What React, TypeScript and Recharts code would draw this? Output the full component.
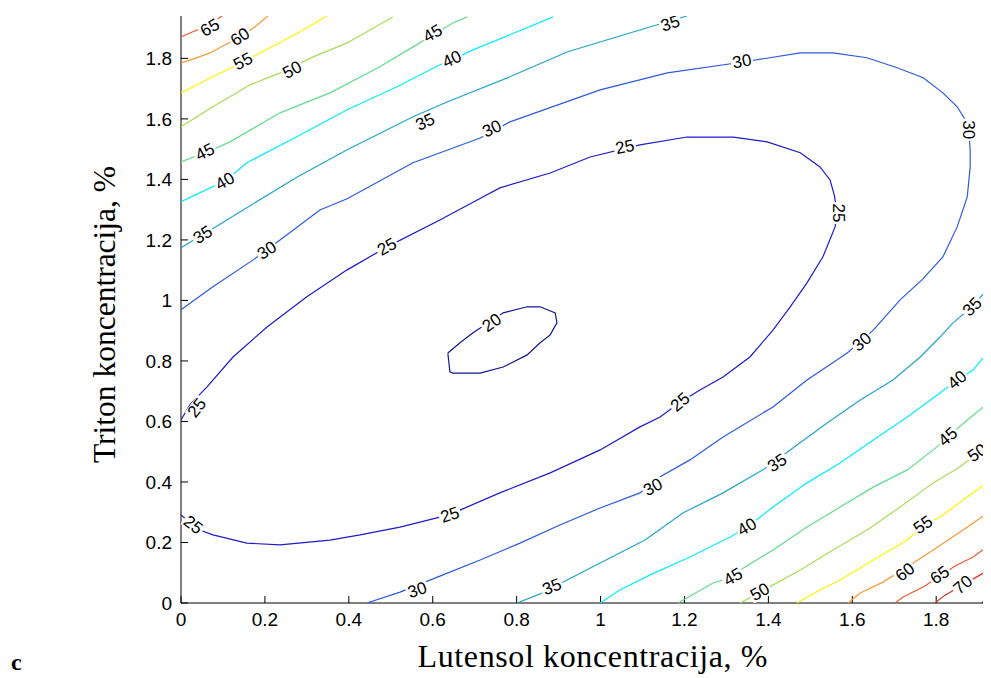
import React from 'react';
import { ScatterChart, Scatter, XAxis, YAxis } from 'recharts';

type Pt = { x: number; y: number };
const pts = (a: number[][]): Pt[] => a.map(([x, y]) => ({ x, y }));

// axis ticks
const xTicks = [0, 0.2, 0.4, 0.6, 0.8, 1, 1.2, 1.4, 1.6, 1.8];
const yTicks = [0, 0.2, 0.4, 0.6, 0.8, 1, 1.2, 1.4, 1.6, 1.8];
const xDomain = [0, 1.933];
const yDomain = [0, 1.94];

// contour lines (Lutensol %, Triton %)
const level20 = pts([
  [0.636, 0.826], [0.641, 0.764], [0.648, 0.76], [0.713, 0.76], [0.768, 0.78], [0.825, 0.82],
  [0.856, 0.86], [0.88, 0.886], [0.896, 0.926], [0.892, 0.959], [0.856, 0.979], [0.825, 0.979],
  [0.768, 0.959], [0.696, 0.893], [0.665, 0.86], [0.636, 0.826],
]);

const level25 = pts([
  [0, 0.605], [0.021, 0.655], [0.062, 0.714], [0.124, 0.813], [0.205, 0.912], [0.3, 1.012],
  [0.396, 1.101], [0.491, 1.177], [0.617, 1.266], [0.706, 1.332], [0.76, 1.372], [0.88, 1.421],
  [0.975, 1.474], [1.094, 1.514], [1.206, 1.54], [1.316, 1.54], [1.397, 1.524], [1.476, 1.488],
  [1.523, 1.441], [1.547, 1.398], [1.557, 1.349], [1.564, 1.289], [1.559, 1.243], [1.53, 1.144],
  [1.492, 1.058], [1.452, 0.979], [1.411, 0.902], [1.356, 0.813], [1.292, 0.747], [1.237, 0.704],
  [1.19, 0.664], [1.142, 0.615], [1.094, 0.582], [0.999, 0.506], [0.88, 0.43], [0.76, 0.364],
  [0.665, 0.307], [0.617, 0.284], [0.522, 0.251], [0.427, 0.225], [0.355, 0.208], [0.236, 0.192],
  [0.157, 0.198], [0.076, 0.225], [0.045, 0.241], [0, 0.291],
]);

const level30 = pts([
  [0, 0.969], [0.076, 1.045], [0.172, 1.134], [0.236, 1.2], [0.331, 1.299], [0.396, 1.336],
  [0.553, 1.455], [0.713, 1.537], [0.784, 1.59], [0.999, 1.696], [1.159, 1.752], [1.34, 1.788],
  [1.476, 1.818], [1.554, 1.818], [1.635, 1.802], [1.707, 1.769], [1.769, 1.736], [1.816, 1.686],
  [1.85, 1.64], [1.869, 1.597], [1.878, 1.547], [1.881, 1.498], [1.881, 1.441], [1.874, 1.342],
  [1.85, 1.243], [1.816, 1.144], [1.766, 1.068], [1.714, 1.002], [1.65, 0.902], [1.588, 0.826],
  [1.492, 0.737], [1.411, 0.648], [1.292, 0.549], [1.213, 0.473], [1.142, 0.417], [1.094, 0.364],
  [0.999, 0.314], [0.903, 0.258], [0.808, 0.198], [0.713, 0.142], [0.617, 0.089], [0.522, 0.036],
  [0.443, 0],
]);

const level35a = pts([
  [0, 1.174], [0.052, 1.217], [0.148, 1.299], [0.277, 1.408], [0.396, 1.498], [0.553, 1.607],
  [0.634, 1.656], [0.784, 1.739], [0.92, 1.821], [1.046, 1.874], [1.135, 1.911], [1.206, 1.94],
]);
const level35b = pts([
  [1.933, 1.055], [1.886, 0.979], [1.84, 0.926], [1.809, 0.879], [1.762, 0.813], [1.697, 0.737],
  [1.619, 0.671], [1.54, 0.595], [1.452, 0.506], [1.387, 0.44], [1.292, 0.364], [1.197, 0.298],
  [1.106, 0.208], [0.999, 0.132], [0.92, 0.076], [0.856, 0.03], [0.801, 0],
]);

const level40a = pts([
  [0, 1.326], [0.105, 1.395], [0.157, 1.455], [0.276, 1.541], [0.396, 1.63], [0.515, 1.706],
  [0.617, 1.779], [0.646, 1.795], [0.696, 1.828], [0.784, 1.878], [0.887, 1.937],
]);
const level40b = pts([
  [1.933, 0.846], [1.888, 0.77], [1.85, 0.737], [1.809, 0.694], [1.731, 0.615], [1.65, 0.539],
  [1.571, 0.463], [1.492, 0.397], [1.411, 0.317], [1.349, 0.251], [1.309, 0.218], [1.213, 0.152],
  [1.118, 0.093], [1.046, 0.043], [0.999, 0],
]);

const level45a = pts([
  [0, 1.458], [0.057, 1.488], [0.117, 1.524], [0.236, 1.62], [0.355, 1.686], [0.474, 1.772],
  [0.553, 1.838], [0.601, 1.878], [0.648, 1.917], [0.682, 1.937],
]);
const level45b = pts([
  [1.933, 0.671], [1.874, 0.605], [1.828, 0.549], [1.793, 0.506], [1.731, 0.44], [1.65, 0.383],
  [1.571, 0.317], [1.492, 0.251], [1.411, 0.175], [1.333, 0.109], [1.316, 0.086], [1.268, 0.066],
  [1.197, 0.01], [1.185, 0],
]);

const level50a = pts([
  [0, 1.574], [0.076, 1.64], [0.164, 1.712], [0.236, 1.752], [0.315, 1.805], [0.396, 1.851],
  [0.505, 1.937],
]);
const level50b = pts([
  [1.933, 0.529], [1.898, 0.496], [1.857, 0.45], [1.793, 0.397], [1.714, 0.317], [1.635, 0.241],
  [1.554, 0.175], [1.476, 0.109], [1.38, 0.036], [1.333, 0],
]);

const level55a = pts([
  [0, 1.686], [0.076, 1.739], [0.148, 1.788], [0.188, 1.818], [0.284, 1.888], [0.348, 1.94],
]);
const level55b = pts([
  [1.933, 0.41], [1.874, 0.35], [1.809, 0.284], [1.769, 0.255], [1.731, 0.208], [1.65, 0.142],
  [1.571, 0.076], [1.523, 0.043], [1.468, 0],
]);

const level60a = pts([
  [0, 1.785], [0.035, 1.801], [0.069, 1.818], [0.105, 1.845], [0.141, 1.871], [0.175, 1.903],
  [0.207, 1.94],
]);
const level60b = pts([
  [1.933, 0.307], [1.864, 0.241], [1.793, 0.175], [1.745, 0.132], [1.673, 0.069], [1.619, 0.033],
  [1.59, 0],
]);

const level65a = pts([[0, 1.871], [0.021, 1.884], [0.057, 1.904], [0.098, 1.94]]);
const level65b = pts([
  [1.933, 0.198], [1.888, 0.152], [1.845, 0.122], [1.769, 0.053], [1.721, 0.02], [1.702, 0],
]);

const level70 = pts([[1.933, 0.116], [1.905, 0.093], [1.864, 0.06], [1.821, 0.026], [1.797, 0]]);
const level75 = pts([[1.933, 0.036], [1.909, 0]]);

// inline contour labels: text, position and orientation
const contourLabels = [
  { text: '65', x: 0.069, y: 1.901, angle: -30 },
  { text: '60', x: 0.141, y: 1.871, angle: -35 },
  { text: '55', x: 0.148, y: 1.79, angle: -28 },
  { text: '50', x: 0.265, y: 1.762, angle: -28 },
  { text: '45', x: 0.057, y: 1.49, angle: -27 },
  { text: '45', x: 0.6, y: 1.882, angle: -30 },
  { text: '40', x: 0.105, y: 1.394, angle: -30 },
  { text: '40', x: 0.646, y: 1.797, angle: -25 },
  { text: '35', x: 0.052, y: 1.217, angle: -32 },
  { text: '35', x: 0.582, y: 1.59, angle: -25 },
  { text: '35', x: 1.166, y: 1.915, angle: -18 },
  { text: '30', x: 0.205, y: 1.165, angle: -33 },
  { text: '30', x: 0.741, y: 1.567, angle: -25 },
  { text: '30', x: 1.337, y: 1.79, angle: -10 },
  { text: '30', x: 1.876, y: 1.564, angle: 90 },
  { text: '30', x: 1.623, y: 0.863, angle: -40 },
  { text: '30', x: 1.125, y: 0.383, angle: -28 },
  { text: '30', x: 0.563, y: 0.043, angle: -18 },
  { text: '25', x: 0.038, y: 0.645, angle: -52 },
  { text: '25', x: 0.491, y: 1.177, angle: -30 },
  { text: '25', x: 1.058, y: 1.507, angle: -12 },
  { text: '25', x: 1.566, y: 1.289, angle: 90 },
  { text: '25', x: 1.19, y: 0.664, angle: -40 },
  { text: '25', x: 0.641, y: 0.291, angle: -18 },
  { text: '25', x: 0.029, y: 0.258, angle: 38 },
  { text: '20', x: 0.741, y: 0.926, angle: -35 },
  { text: '35', x: 1.886, y: 0.979, angle: -45 },
  { text: '35', x: 1.421, y: 0.463, angle: -33 },
  { text: '35', x: 0.884, y: 0.053, angle: -22 },
  { text: '40', x: 1.85, y: 0.737, angle: -40 },
  { text: '40', x: 1.349, y: 0.251, angle: -30 },
  { text: '45', x: 1.828, y: 0.549, angle: -40 },
  { text: '45', x: 1.316, y: 0.086, angle: -30 },
  { text: '50', x: 1.898, y: 0.496, angle: -35 },
  { text: '50', x: 1.38, y: 0.036, angle: -30 },
  { text: '55', x: 1.769, y: 0.258, angle: -35 },
  { text: '60', x: 1.726, y: 0.102, angle: -38 },
  { text: '65', x: 1.809, y: 0.092, angle: -35 },
  { text: '70', x: 1.864, y: 0.06, angle: -40 },
];

const levelColors: Record<number, string> = {
  20: '#16168e', 25: '#1c1cc8', 30: '#2b5ade', 35: '#22a4cc', 40: '#05eaff', 45: '#62dc8c',
  50: '#a6de52', 55: '#fff000', 60: '#f59a32', 65: '#ee5a30', 70: '#d83222', 75: '#a21212',
};

const contours: { level: number; data: Pt[] }[] = [
  { level: 20, data: level20 },
  { level: 25, data: level25 },
  { level: 30, data: level30 },
  { level: 35, data: level35a },
  { level: 35, data: level35b },
  { level: 40, data: level40a },
  { level: 40, data: level40b },
  { level: 45, data: level45a },
  { level: 45, data: level45b },
  { level: 50, data: level50a },
  { level: 50, data: level50b },
  { level: 55, data: level55a },
  { level: 55, data: level55b },
  { level: 60, data: level60a },
  { level: 60, data: level60b },
  { level: 65, data: level65a },
  { level: 65, data: level65b },
  { level: 70, data: level70 },
  { level: 75, data: level75 },
];

const tickFont = { fill: '#000', fontSize: 19, fontFamily: 'Liberation Sans, Arial, sans-serif' };
const emptyShape = () => <g />;

const renderContourLabel = (props: any) => {
  const { cx, cy, payload } = props;
  if (cx == null || cy == null) return <g />;
  return (
    <g transform={`rotate(${payload.angle} ${cx} ${cy})`}>
      <rect x={cx - 11} y={cy - 7} width={22} height={14} fill="#fff" />
      <text
        x={cx}
        y={cy}
        textAnchor="middle"
        dominantBaseline="central"
        fontSize={17}
        fontFamily="Liberation Sans, Arial, sans-serif"
        fill="#000"
      >
        {payload.text}
      </text>
    </g>
  );
};

const renderXTitle = (props: any) => {
  const vb = props.viewBox || { x: 173, y: 595, width: 811, height: 75 };
  return (
    <g>
      <text
        x={vb.x + vb.width / 2 + 6}
        y={vb.y + vb.height - 11}
        textAnchor="middle"
        fontSize={32}
        textLength={350}
        lengthAdjust="spacing"
        fontFamily="Liberation Serif, 'Times New Roman', serif"
        fill="#000"
      >
        Lutensol koncentracija, %
      </text>
      <text
        x={3}
        y={vb.y + vb.height - 8}
        fontSize={24}
        fontWeight="bold"
        fontFamily="Liberation Serif, 'Times New Roman', serif"
        fill="#000"
      >
        c
      </text>
    </g>
  );
};

const renderYTitle = (props: any) => {
  const vb = props.viewBox || { x: 0, y: 8, width: 173, height: 587 };
  const cx = vb.x + vb.width - 66;
  const cy = vb.y + vb.height / 2 + 5;
  return (
    <text
      x={cx}
      y={cy}
      transform={`rotate(-90 ${cx} ${cy})`}
      textAnchor="middle"
      fontSize={31.5}
      fontFamily="Liberation Serif, 'Times New Roman', serif"
      fill="#000"
    >
      Triton koncentracija, %
    </text>
  );
};

export default function App() {
  return (
    <div style={{ width: 983, height: 670, overflow: 'hidden', background: '#fff' }}>
      <ScatterChart width={984} height={670} margin={{ top: 8, right: 0, bottom: 0, left: 0 }}>
        <XAxis
          xAxisId="b"
          type="number"
          dataKey="x"
          orientation="bottom"
          domain={xDomain}
          ticks={xTicks}
          allowDataOverflow
          height={75}
          tickSize={-7}
          tickMargin={17}
          tick={tickFont}
          axisLine={{ stroke: '#000' }}
          tickLine={{ stroke: '#000' }}
          label={renderXTitle}
        />
        <XAxis
          xAxisId="t"
          type="number"
          dataKey="x"
          orientation="top"
          domain={xDomain}
          ticks={xTicks}
          allowDataOverflow
          height={0}
          tickSize={-7}
          tick={false}
          axisLine={{ stroke: '#000' }}
          tickLine={{ stroke: '#000' }}
        />
        <YAxis
          yAxisId="l"
          type="number"
          dataKey="y"
          orientation="left"
          domain={yDomain}
          ticks={yTicks}
          allowDataOverflow
          width={173}
          tickSize={-7}
          tickMargin={16}
          tick={tickFont}
          axisLine={{ stroke: '#000' }}
          tickLine={{ stroke: '#000' }}
          label={renderYTitle}
        />
        <YAxis
          yAxisId="r"
          type="number"
          dataKey="y"
          orientation="right"
          domain={yDomain}
          ticks={yTicks}
          allowDataOverflow
          width={0}
          tickSize={-7}
          tick={false}
          axisLine={{ stroke: '#000' }}
          tickLine={{ stroke: '#000' }}
        />
        {contours.map((c, i) => (
          <Scatter
            key={`c${i}`}
            xAxisId="b"
            yAxisId="l"
            data={c.data}
            fill={levelColors[c.level]}
            line={{ stroke: levelColors[c.level], strokeWidth: 1.2 }}
            lineJointType="linear"
            shape={emptyShape}
            isAnimationActive={false}
            legendType="none"
          />
        ))}
        <Scatter
          xAxisId="b"
          yAxisId="l"
          data={contourLabels}
          fill="#000"
          shape={renderContourLabel}
          isAnimationActive={false}
          legendType="none"
        />
      </ScatterChart>
    </div>
  );
}
